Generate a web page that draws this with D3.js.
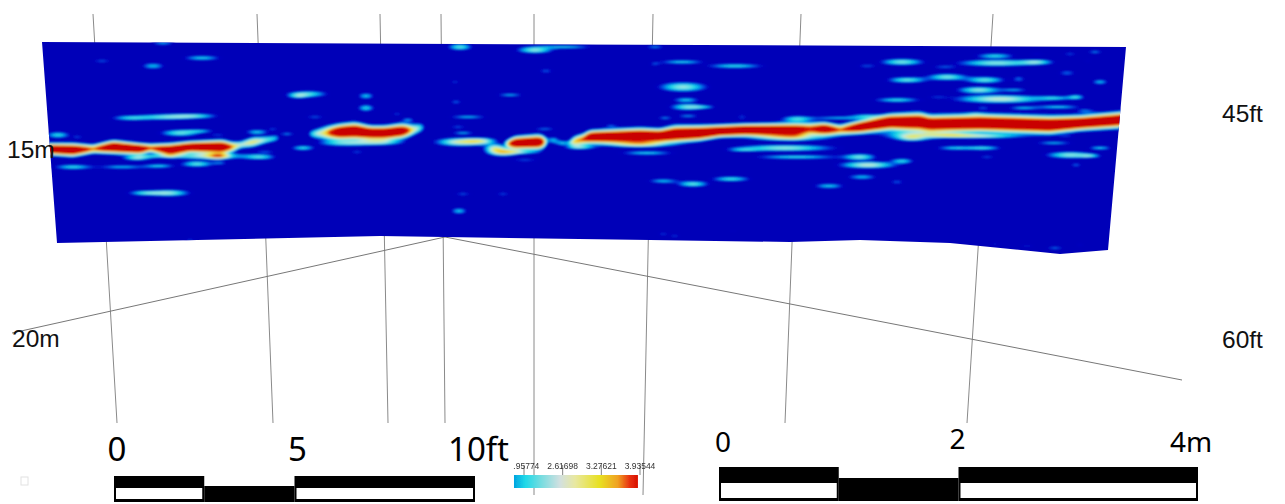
<!DOCTYPE html>
<html>
<head>
<meta charset="utf-8">
<script src="https://cdn.jsdelivr.net/npm/d3@7/dist/d3.min.js"></script>
<style>
html, body { margin: 0; background: #fff; overflow: hidden; }
svg { display: block; }
.big { font-family: "Noto Sans", sans-serif; fill: #000; }
.axis-label { font-family: "Liberation Sans", sans-serif; font-size: 24.5px; fill: #111; }
.cb-label { font-family: "Liberation Sans", sans-serif; font-size: 8.5px; fill: #333; text-anchor: middle; }
</style>
</head>
<body>
<svg id="svg" width="1285" height="504"></svg>
<script>
// radar section outline, [trace, sample]
var sectionOutline = [[2,2],[1086,7],[1068,210],[1020,214],[910,203],[820,200],[750,202],[610,200],[405,197],[340,196],[17,203]];

// reflector picks, [trace, sample, spread, amplitude]
var reflectorA = [[5,109,2.6,.95],[33,110,3,1],[53,109,2.2,.5],[73,107,3,1],[100,109,2.6,.95],[110,108,2.2,.52],[130,110,3,.95],[150,107,2.6,.95],[182,107,3.2,1],[192,107,2.6,.52],[200,105,2,.3],[213,102,2.6,.42],[225,100,2,.28],[237,98,1.8,.2],[240,98,1,0]];
var reflectorB = [[270,94,2,.2],[285,93,3.4,.42],[300,92,3.6,1],[315,91,3.8,1.05],[330,93,3.2,1],[345,93,3.2,1],[362,91,3.4,.95],[372,90,3,.4],[383,87,2.4,.2]];
var reflectorC = [[467,104,2,.4],[475,103,3,.95],[500,102,3.4,1],[505,102,2.8,.4]];
var reflectorD = [[530,103,1.8,.2],[535,101,2.6,.5],[545,99,2.8,.6],[550,97,3,1],[600,96,3.6,1.05],[620,96,3.2,1],[635,94,3.8,1.05],[660,93,3.4,1.05],[680,91,2.8,1],[705,90,2.8,1],[740,90,3,1],[755,90,3.2,.95],[770,89,3,.62],[785,89,3,.95],[800,90,2.6,.52],[820,87,3,.95],[850,82,3.6,1.05],[880,82,4.2,1.05],[890,84,4,1],[940,83,4,1.05],[1010,85,4,1.05],[1040,83,3.4,1],[1080,80,3.6,1],[1090,79,3.6,1]];

// weaker patches, [trace, sample, spread along, spread down, amplitude]
var patchesLeft = [[123,3,6,1.5,.25],[62,21,6,1,.2],[162,18,10,1.5,.3],[113,26,6,2,.28],[268,54,10,2,.35],[258,56,5,1.5,.28],[326,56,4,2,.3],[326,68,4,2.2,.33],[275,77,6,1,.2],[357,74,3,1,.2],[368,80,3,1.5,.25],[90,78,10,1.5,.3],[125,77,14,1.8,.36],[155,76,12,1.5,.33],[140,93,10,2,.38],[160,91,8,1,.25],[18,95,6,2,.33],[38,97,3,1,.2],[217,92,6,1.5,.3],[233,89,3,1,.2],[247,94,4,1,.25],[263,108,6,1.5,.33],[178,95,5,.8,.18],[97,118,7,1.5,.38],[33,127,10,1.5,.33],[82,127,12,1.2,.28],[119,126,8,1.3,.3],[157,124,8,1.8,.38],[180,123,4,1,.22],[167,116,20,2,.42],[178,116,5,2,.45],[113,116,10,1,.25],[220,117,8,1.6,.33],[225,112,6,1,.2],[317,112,4,1,.2],[105,153,9,1.5,.33],[130,153,10,2,.4],[150,200,3,1,.2],[305,103,14,2,.33],[340,102,12,2,.35]];
var patchesMiddle = [[420,7,6,2,.38],[495,10,9,2,.42],[525,7,15,1,.3],[615,7,5,1,.25],[506,31,4,1.5,.2],[415,42,3,1,.2],[470,55,7,1,.27],[416,62,3,1.5,.22],[428,77,10,1,.28],[418,87,5,1,.2],[423,93,6,1,.27],[505,89,6,1,.22],[571,86,3,1,.2],[615,24,3,1,.2],[642,22,12,1.3,.3],[695,26,15,1.4,.33],[643,47,12,3,.42],[646,60,7,1.5,.3],[648,67,9,2,.4],[665,67,6,.8,.2],[648,76,6,1,.25],[625,78,4,1,.25],[702,77,3,2,.18],[757,79,8,2,.33],[800,78,15,1,.27],[703,110,8,1,.25],[745,108,25,2,.42],[757,117,22,1.3,.33],[607,113,14,1.3,.3],[623,141,8,1.4,.28],[653,144,8,1.8,.38],[691,139,10,1.5,.35],[789,146,8,1.5,.3],[423,154,5,1,.2],[463,154,4,1,.2],[419,171,4,2,.3],[623,194,3,1,.2],[635,196,3,1,.2],[693,191,3,.8,.14],[600,104,15,2,.42],[750,97,18,2.5,.45],[420,102,12,2.5,.5],[440,101,8,2,.4],[455,108,5,2.5,.45],[463,112,7,2.5,.55],[480,112,10,1.3,.3],[485,120,8,.8,.2],[513,100,3,2,.3],[523,103,4,1.5,.3],[540,107,8,1.5,.35]];
var patchesRight = [[820,117,8,2,.38],[828,125,14,2,.48],[822,137,8,1.5,.28],[862,121,6,1.5,.33],[857,142,4,1.5,.2],[862,22,11,2,.4],[827,26,6,1,.2],[955,16,10,1.5,.33],[957,23,20,2,.42],[905,27,8,1,.2],[997,22,8,1.5,.33],[997,14,5,.8,.15],[1030,14,4,1,.2],[1055,12,4,1,.25],[1048,21,3,.8,.15],[867,40,10,1.8,.38],[907,37,10,2,.4],[945,40,10,2,.38],[979,39,3,2,.22],[1027,33,5,2,.2],[1060,42,4,1.5,.3],[939,50,11,2,.42],[975,50,7,1,.25],[960,59,22,2.5,.48],[857,60,12,1.4,.33],[897,57,6,.8,.15],[1015,58,9,1.2,.28],[1036,57,4,1.5,.33],[983,68,8,1,.27],[1018,67,12,1.2,.3],[943,68,4,1,.2],[1045,71,5,1.5,.2],[935,74,4,.8,.15],[825,76,8,1.3,.27],[872,95,15,3,.36],[872,98,7,2,.3],[910,95,12,1.5,.33],[940,96,20,1.5,.4],[915,108,10,1.3,.3],[944,108,9,1.3,.33],[947,117,5,.9,.2],[1014,103,10,1,.27],[1060,108,6,1.2,.3],[1030,115,12,2,.42],[1050,116,5,1,.27],[1036,125,3,1.5,.22],[1027,96,5,.8,.15],[955,204,4,1,.15],[987,206,5,1,.15],[1015,208,5,1,.22],[1040,205,3,1,.15]];

// survey grid, [trace at top, trace at bottom, bottom sample]
var gridLines = [[53,77,383],[217,233,383],[340,348,383],[401,405,383],[494,494,455],[613,603,455],[761,745,383],[953,927,383]];
var gridTop = -26;
var fanApex = [405,197];
var fanEnds = [[-28,293],[1142,340]];

var heatStops = [0,.1,.16,.24,.32,.45,.62,.76,.88,1.2];
var heatColors = ["#0000b8","#0000be","#0040e0","#00aaeb","#28dce6","#bee9e1","#ebe650","#f0aa1e","#dc1e0a","#c80000"];

var axisLabels = [["15m",7,158],["45ft",1222,122],["20m",12,347],["60ft",1222,348]];

var ftTicks = [[0,"0"],[5,"5"],[10,"10ft"]];
var ftSegments = [[0,2.5,0],[2.5,5,1],[5,10,0]];
var mTicks = [[0,"0"],[2,"2"],[4,"4m"]];
var mSegments = [[0,1,0],[1,2,1],[2,4,0]];

var cbStops = [[1.787,"#00a4e0"],[1.975,"#1ed8e8"],[2.23,"#70dce0"],[2.57,"#d2e0e0"],[2.83,"#e8e8a0"],[3.25,"#e8e020"],[3.56,"#f0a020"],[3.76,"#e83010"],[3.90,"#d81000"]];
var cbTicks = [1.95774,2.61698,3.27621,3.93544];

var svg = d3.select("#svg");
var width = 1285, height = 504;

var x = d3.scaleLinear().domain([0,1090]).range([40,1130]);
var y = d3.scaleLinear().domain([0,215]).range([40,255]);
var heat = d3.scaleLinear().domain(heatStops).range(heatColors).clamp(true);
var ftX = d3.scaleLinear().domain([0,10]).range([114,475]);
var mX = d3.scaleLinear().domain([0,4]).range([719,1198]);
var cbX = d3.scaleLinear().domain([1.95774,3.93544]).range([524,640]);

var defs = svg.append("defs");
defs.append("filter").attr("id","soft").append("feGaussianBlur").attr("stdDeviation",0.8);
defs.append("filter").attr("id","softer").append("feGaussianBlur").attr("stdDeviation",0.7);
defs.append("clipPath").attr("id","section")
  .append("polygon").attr("points", sectionOutline.map(function(d){ return x(d[0])+","+y(d[1]); }).join(" "));
defs.append("clipPath").attr("id","cbclip")
  .append("rect").attr("x",513).attr("y",455).attr("width",160).attr("height",45);
var grad = defs.append("linearGradient").attr("id","cbgrad")
  .attr("gradientUnits","userSpaceOnUse")
  .attr("x1",cbX(cbStops[0][0])).attr("x2",cbX(cbStops[cbStops.length-1][0])).attr("y1",0).attr("y2",0);
grad.selectAll("stop").data(cbStops).enter().append("stop")
  .attr("offset", function(d){ return (d[0]-cbStops[0][0])/(cbStops[cbStops.length-1][0]-cbStops[0][0]); })
  .attr("stop-color", function(d){ return d[1]; });

// grid under the section
var gridG = svg.append("g").attr("stroke","#8a8a8a").attr("stroke-width",1).attr("fill","none");
gridG.selectAll("line.v").data(gridLines).enter().append("line").attr("class","v")
  .attr("x1", function(d){ return x(d[0]); }).attr("y1", y(gridTop))
  .attr("x2", function(d){ return x(d[1]); }).attr("y2", function(d){ return y(d[2]); });
gridG.selectAll("line.f").data(fanEnds).enter().append("line").attr("class","f")
  .attr("stroke","#777")
  .attr("x1", x(fanApex[0])).attr("y1", y(fanApex[1]))
  .attr("x2", function(d){ return x(d[0]); }).attr("y2", function(d){ return y(d[1]); });

// amplitude field built from the picks above
var nx = 1091, ny = 216;
var field = new Float64Array(nx*ny);
var patchWiden = [1.3,1], patchGain = 1.05, reflectorGain = 1.5, reflectorWiden = 1.2;

function addPatch(p) {
  var sx = p[2]*patchWiden[0], sy = p[3]*patchWiden[1];
  var x0 = Math.max(0, Math.floor(p[0]-3.5*sx)), x1 = Math.min(nx-1, Math.ceil(p[0]+3.5*sx));
  var y0 = Math.max(0, Math.floor(p[1]-3.5*sy)), y1 = Math.min(ny-1, Math.ceil(p[1]+3.5*sy));
  for (var j = y0; j <= y1; j++) {
    for (var i = x0; i <= x1; i++) {
      var dx = (i-p[0])/sx, dy = (j-p[1])/sy;
      field[j*nx+i] += patchGain*p[4]*Math.exp(-0.5*(dx*dx+dy*dy));
    }
  }
}

function addReflector(r) {
  var traces = r.map(function(d){ return d[0]; });
  var sampleAt = d3.scaleLinear().domain(traces).range(r.map(function(d){ return d[1]; }));
  var spreadAt = d3.scaleLinear().domain(traces).range(r.map(function(d){ return d[2]*reflectorWiden; }));
  var ampAt = d3.scaleLinear().domain(traces).range(r.map(function(d){ return d[3]*reflectorGain; }));
  for (var i = traces[0]; i <= Math.min(nx-1, traces[traces.length-1]); i++) {
    var c = sampleAt(i), s = spreadAt(i), a = ampAt(i);
    for (var j = Math.max(0, Math.floor(c-4*s)); j <= Math.min(ny-1, Math.ceil(c+4*s)); j++) {
      var dy = (j-c)/s;
      field[j*nx+i] += a*Math.exp(-0.5*dy*dy);
    }
  }
}

[reflectorA,reflectorB,reflectorC,reflectorD].forEach(addReflector);
patchesLeft.concat(patchesMiddle,patchesRight).forEach(addPatch);
// round off the corners between picks
d3.blur2({data: field, width: nx}, 2, 0);

var levels = d3.range(0.08,1.2,0.02);
var contours = d3.contours().size([nx,ny]).thresholds(levels)(field);
var path = d3.geoPath(d3.geoTransform({
  point: function(px,py) { this.stream.point(x(px-0.5), y(py-0.5)); }
}));

var section = svg.append("g").attr("clip-path","url(#section)");
section.append("rect").attr("x",0).attr("y",0).attr("width",width).attr("height",300).attr("fill",heat(0));
section.append("g").attr("filter","url(#soft)")
  .selectAll("path").data(contours).enter().append("path")
  .attr("d", path)
  .attr("fill", function(d){ return heat(d.value); });

// depth labels
svg.selectAll("text.axis-label").data(axisLabels).enter().append("text")
  .attr("class","axis-label")
  .attr("x", function(d){ return d[1]; }).attr("y", function(d){ return d[2]; })
  .text(function(d){ return d[0]; });

// scale bars
function scaleBar(scale, segs, top, mid, bot, whiteTop, whiteBot) {
  var g = svg.append("g").attr("filter","url(#softer)");
  segs.forEach(function(s){
    var a = scale(s[0]), b = scale(s[1]);
    if (s[2]) {
      g.append("rect").attr("x",a).attr("y",mid).attr("width",b-a).attr("height",bot-mid).attr("fill","#000");
    } else {
      g.append("rect").attr("x",a).attr("y",top).attr("width",b-a).attr("height",bot-top).attr("fill","#000");
      g.append("rect").attr("x",a+2).attr("y",whiteTop).attr("width",b-a-4).attr("height",whiteBot-whiteTop).attr("fill","#fff");
    }
  });
}
scaleBar(ftX, ftSegments, 476, 486, 502, 488, 499);
scaleBar(mX, mSegments, 467, 478, 501, 483, 498);

svg.selectAll("text.ft").data(ftTicks).enter().append("text")
  .attr("class","big ft").attr("font-size",33)
  .attr("x", function(d,i){ return i < 2 ? ftX(d[0])+3 : ftX(d[0])-27; })
  .attr("text-anchor", function(d,i){ return i < 2 ? "middle" : "start"; })
  .attr("y",461)
  .text(function(d){ return d[1]; });
svg.selectAll("text.m").data(mTicks).enter().append("text")
  .attr("class","big m").attr("font-size",28)
  .attr("x", function(d,i){ return i == 0 ? mX(d[0])+4 : i == 1 ? mX(d[0])-1 : mX(d[0])-28; })
  .attr("text-anchor", function(d,i){ return i < 2 ? "middle" : "start"; })
  .attr("y", function(d,i){ return i == 1 ? 449 : 452; })
  .text(function(d){ return d[1]; });

// colour bar
var cb = svg.append("g").attr("filter","url(#softer)");
cb.append("rect").attr("x",cbX(cbStops[0][0])).attr("y",475)
  .attr("width",cbX(cbStops[cbStops.length-1][0])-cbX(cbStops[0][0])).attr("height",13)
  .attr("fill","url(#cbgrad)");
cb.selectAll("line").data(cbTicks).enter().append("line")
  .attr("x1",function(d){ return cbX(d); }).attr("x2",function(d){ return cbX(d); })
  .attr("y1",465).attr("y2",475).attr("stroke","#666").attr("stroke-width",0.8);
cb.append("g").attr("clip-path","url(#cbclip)")
  .selectAll("text").data(cbTicks).enter().append("text")
  .attr("class","cb-label")
  .attr("x",function(d){ return cbX(d); }).attr("y",469)
  .text(function(d){ return d.toFixed(5); });

// faint mark bottom left
svg.append("rect").attr("x",21).attr("y",477).attr("width",7).attr("height",8)
  .attr("fill","none").attr("stroke","#e2e2e2");
</script>
</body>
</html>
